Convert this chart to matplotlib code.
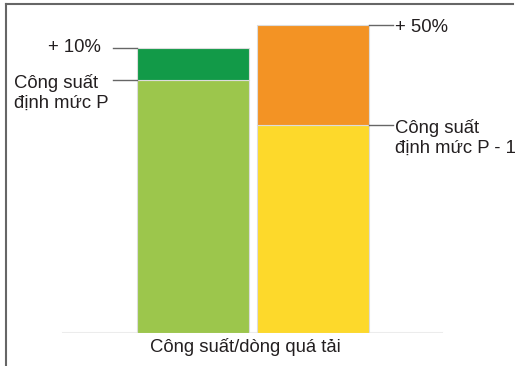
import numpy as np
import matplotlib
matplotlib.use('Agg')
import matplotlib.pyplot as plt

plt.rcParams['font.family'] = ['Liberation Sans', 'DejaVu Sans']

# gia tri doc tu hinh (don vi tuong doi)
rated = [253, 208]          # cong suat dinh muc
overload = [32, 100]        # phan qua tai
base_colors = ['#9cc64c', '#fdd92b']
top_colors = ['#129a48', '#f39324']
top_labels = ['+ 10%', '+ 50%']
rated_labels = ['Công suất\nđịnh mức P', 'Công suất\nđịnh mức P - 1']
xlabel = 'Công suất/dòng quá tải'

fs = 13.3
tc = '#231f20'

fig = plt.figure(figsize=(5.16, 3.66), dpi=100)
ax = fig.add_axes([6 / 516, 33 / 366, 507 / 516, 329 / 366])

x = np.arange(len(rated))
w = 0.933
ax.bar(x, rated, width=w, color=base_colors, edgecolor='#dcdcdc', linewidth=0.8)
ax.bar(x, overload, bottom=rated, width=w, color=top_colors, edgecolor='#dcdcdc', linewidth=0.8)

ax.set_xlim(-1.558, 2.667)
ax.set_ylim(0, 329)

# duong chi dan va nhan
tick = 0.2
for i in range(len(rated)):
    total = rated[i] + overload[i]
    if i == 0:
        x0 = x[i] - w / 2
        x1 = x0 - tick
        ax.plot([x1, x0], [total, total], color='#666666', lw=1)
        ax.plot([x1, x0], [rated[i], rated[i]], color='#666666', lw=1)
        ax.text(x1 - 0.1, total, top_labels[i], ha='right', va='center', fontsize=fs, color=tc)
        ax.text(-1.49, rated[i] - 13, rated_labels[i], ha='left', va='center', fontsize=fs,
                color=tc, linespacing=1.2)
    else:
        x0 = x[i] + w / 2
        x1 = x0 + tick
        ax.plot([x0, x1], [total, total], color='#666666', lw=1)
        ax.plot([x0, x1], [rated[i], rated[i]], color='#666666', lw=1)
        ax.text(x1 + 0.02, total - 3, top_labels[i], ha='left', va='center', fontsize=fs, color=tc)
        ax.text(x1 + 0.02, rated[i] - 13, rated_labels[i], ha='left', va='center', fontsize=fs,
                color=tc, linespacing=1.2)

# duong nen mo phia duoi
ax.axhline(0, xmin=0.112, xmax=0.86, color='#ececec', lw=1.5, zorder=0)

ax.set_xticks([])
ax.set_yticks([])
ax.spines['right'].set_visible(False)
ax.spines['bottom'].set_visible(False)
ax.spines['left'].set_color('#666666')
ax.spines['top'].set_color('#666666')
ax.spines['left'].set_linewidth(1.5)
ax.spines['top'].set_linewidth(1.5)
ax.spines['left'].set_bounds(-40, 329)
ax.patch.set_visible(False)

fig.text(245 / 516, 1 - 347 / 366, xlabel, ha='center', va='center', fontsize=fs, color=tc)

fig.savefig('out.png', dpi=100)
